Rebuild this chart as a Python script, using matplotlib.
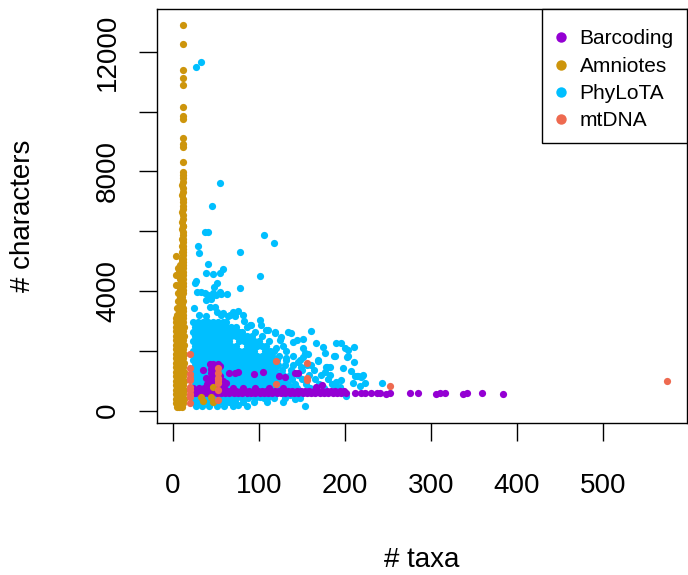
import matplotlib
matplotlib.use("Agg")
import matplotlib.pyplot as plt
from matplotlib.lines import Line2D
from matplotlib.patches import Rectangle

plt.rcParams['font.family'] = ['Liberation Sans', 'DejaVu Sans']

# ---- data (taxa, characters) ----
series_names = ['Barcoding', 'Amniotes', 'PhyLoTA', 'mtDNA']
series_colors = ['#9400D3', '#CD950C', '#00BFFF', '#EE6A50']

# PhyLoTA: scattered points
phylota_taxa = [27.6, 33.4, 54.7, 45.7, 37, 41, 106, 117.4, 29.5, 30.6, 78.3, 41, 39, 47,
                58.5, 55.5, 102, 27.5, 26.4, 51, 48, 78.3, 28, 33, 37, 41, 44, 50.8, 56,
                63.6, 39, 45, 25, 49, 51, 31, 39, 56.6, 64, 72, 76, 83, 91.5, 101, 103,
                111, 119.4, 126.4, 134, 138, 160.5, 190, 196, 211, 204, 200, 151.5, 153.5,
                167, 177, 175, 188, 203, 211, 198, 219, 221, 224, 243, 214, 151.5, 144,
                140, 157.5, 151.5, 188.5, 204, 169, 179, 183.4, 207, 215, 220.5, 209.7,
                217.5, 195, 190, 202, 153.5, 142, 47, 54.7, 43, 58.6, 66.3, 70, 81.7,
                89.5, 109, 118.6, 124.4, 120.6, 76, 111, 101, 136, 119, 132, 145.7,
                149.7, 161, 169, 178.7, 176.7, 182.5, 196, 211.4]
phylota_chars = [11500, 11670, 7620, 6845, 5960, 5960, 5860, 5620, 5515, 5260, 5300, 4890,
                 4600, 4580, 4740, 4600, 4510, 4345, 4255, 4280, 4120, 4090, 3950, 3960,
                 3930, 3850, 3800, 3880, 3900, 3890, 3700, 3720, 3420, 3450, 3300, 3180,
                 3170, 3200, 3150, 3170, 3340, 3000, 2860, 3030, 2860, 2690, 2640, 2470,
                 2640, 2580, 2660, 2250, 2270, 2140, 2025, 2080, 2080, 1910, 2250, 1910,
                 2140, 1820, 1800, 1630, 1410, 1130, 1190, 910, 930, 1150, 2390, 2360,
                 2300, 1900, 1800, 1830, 1830, 1690, 1445, 1445, 1320, 1150, 1160, 910,
                 820, 800, 960, 485, 150, 385, 3920, 3975, 3475, 3250, 3200, 3305, 3200,
                 2860, 2690, 2580, 2360, 2080, 185, 460, 460, 520, 1655, 1760, 1630,
                 1465, 1520, 1665, 1465, 1300, 1190, 1020, 1165]

# PhyLoTA: dense core, one row of taxa per characters level
phylota_row_chars = [2950, 2800, 2640, 2480, 2320, 2160, 2000, 1840, 1680, 1520, 1360,
                     1200, 1040, 880, 760, 430, 280, 140]
phylota_row_taxa = [
    [23, 29, 35, 41, 47, 53, 58, 62],
    [26, 32, 38, 44, 50, 56, 62, 68, 73, 86],
    [23, 29, 35, 41, 47, 53, 59, 65, 71, 77, 81, 96],
    [26, 32, 38, 44, 50, 56, 62, 68, 74, 80, 86, 92, 104],
    [23, 29, 35, 41, 47, 53, 59, 65, 77, 83, 89, 95, 100, 112],
    [26, 32, 38, 44, 50, 56, 62, 68, 74, 86, 92, 98, 104, 108, 128],
    [23, 29, 35, 41, 47, 53, 59, 65, 71, 77, 83, 89, 95, 107, 113, 118, 132],
    [26, 32, 38, 44, 50, 56, 62, 68, 74, 80, 86, 92, 98, 104, 110, 116, 124, 140],
    [23, 29, 35, 41, 47, 53, 59, 65, 71, 77, 83, 89, 95, 101, 107, 113, 121, 132, 148],
    [26, 32, 38, 44, 50, 56, 62, 68, 74, 80, 86, 92, 98, 104, 110, 116, 122, 130, 140, 156],
    [23, 29, 35, 41, 47, 53, 59, 65, 71, 77, 83, 89, 95, 101, 107, 113, 119, 127, 138, 150,
     164],
    [26, 32, 38, 44, 50, 56, 62, 68, 74, 80, 86, 92, 98, 104, 110, 116, 122, 128, 136, 146,
     158, 172],
    [23, 29, 35, 41, 47, 53, 59, 65, 71, 77, 83, 89, 95, 101, 107, 113, 119, 125, 131, 139,
     150, 166, 180],
    [26, 32, 38, 44, 50, 56, 62, 68, 74, 80, 86, 92, 98, 104, 110, 116, 122, 128, 134, 142,
     155, 170, 185],
    [23, 29, 35, 41, 47, 53, 59, 65, 71, 77, 83, 89, 95, 101, 107, 113, 119, 125, 131, 137,
     145, 160, 176, 190],
    [26, 32, 38, 44, 50, 56, 62, 68, 74, 80, 88, 96, 106, 118, 130, 148],
    [23, 29, 35, 41, 47, 53, 59, 65, 72, 82, 94, 110, 128],
    [27, 34, 42, 51, 60, 70, 86],
]

# Barcoding: scattered points
barcoding_taxa = [43, 47, 53, 55, 50, 45, 52, 48, 44, 50, 55, 47, 43, 52, 48, 40, 55, 45,
                  35, 39, 41, 58.5, 62.4, 51, 66, 72, 76, 95, 105, 124, 130, 142, 146, 167,
                  173.6, 212, 219.4, 223.5, 231, 237, 241, 248.5, 252.3, 275.6, 285.3,
                  306.6, 310.5, 316.3, 337, 342.3, 360, 384]
barcoding_chars = [1555, 1555, 1555, 1500, 1450, 1400, 1350, 1300, 1250, 1200, 1150, 1100,
                   1050, 1000, 950, 900, 880, 820, 1355, 1080, 855, 1000, 910, 1110, 1265,
                   1265, 1290, 1220, 1285, 1165, 1110, 1245, 1245, 780, 850, 590, 575, 600,
                   570, 590, 580, 560, 575, 580, 585, 560, 585, 570, 555, 575, 570, 560]

# Barcoding: the dense band
barcoding_row_chars = [660, 570, 760]
barcoding_row_taxa = [
    [24, 29, 34, 39, 44, 49, 54, 59, 64, 69, 74, 79, 84, 89, 94, 99, 104, 109, 114, 119,
     124, 129, 134, 139, 144, 149, 154, 159, 164, 169, 174, 179, 184, 189, 194, 199],
    [26, 31, 36, 41, 46, 51, 56, 61, 66, 71, 76, 81, 86, 91, 96, 101, 106, 111, 116, 121,
     126, 131, 136, 141, 146, 151, 156, 161, 166, 171, 176, 181, 186, 191, 196, 201],
    [24, 30, 36, 42, 48, 54, 60, 70, 82, 96, 112, 128],
]

# Amniotes: scattered points
amniotes_taxa = [11.7, 11.7, 11.7, 11.7, 11.7, 11.7, 11.7, 11.7, 11.7, 11.5, 11.9, 11.7,
                 11.7, 4.3, 6.2, 4.3, 4.3, 33, 45, 47, 47, 35]
amniotes_chars = [12910, 12250, 11390, 11130, 10910, 10160, 9850, 9740, 9110, 8920, 8830,
                  8330, 7990, 5180, 4780, 4535, 4200, 440, 440, 275, 800, 330]

# Amniotes: the dense column
amniotes_row_chars = [7880, 7770, 7650, 7540, 7430, 7320, 7200, 7090, 6980, 6860, 6750,
                      6640, 6530, 6420, 6300, 6190, 6080, 5970, 5860, 5750, 5640, 5520,
                      5410, 5300, 5190, 5080, 4970,
                      4880, 4760, 4640, 4520, 4400, 4280, 4160, 4040, 3920, 3800, 3680,
                      3560, 3440, 3320, 3200, 3080,
                      2950, 2800, 2650, 2500, 2350, 2200, 2050, 1900, 1750, 1600, 1450,
                      1300, 1150, 1000, 850, 700, 550, 400, 260, 130]
amniotes_row_taxa = [
    [11.5], [12], [11.5], [11], [12], [11.5], [11], [12], [11.5], [11.5], [12], [11],
    [11.5], [12], [11], [11.5, 12.5], [11], [12], [11.5], [10.5, 12], [11.5], [11, 12.5],
    [11.5], [10.5, 12], [11.5], [11, 12.5], [10.5, 12],
    [8, 11, 12.5], [9, 12], [7.5, 11, 12.5], [9, 12], [8, 11, 12.5], [9.5, 12], [7, 10.5, 12.5],
    [9, 12], [6, 9.5, 12.5], [8, 11], [6.5, 9.5, 12.5], [8, 11], [5.5, 9, 12], [7, 10.5, 12.5],
    [5, 8.5, 11.5], [4, 6.5, 9.5, 12.5],
    [3.5, 6.5, 9.5, 12.5], [4, 7, 10, 13], [3.5, 6.5, 9.5, 12.5], [4, 7, 10, 13],
    [3.5, 6.5, 9.5, 12.5], [4, 7, 10, 13], [3.5, 6.5, 9.5, 12.5], [4, 7, 10, 13],
    [3.5, 6.5, 9.5, 12.5], [4, 7, 10, 13], [3.5, 6.5, 9.5, 12.5], [4, 7, 10, 13],
    [3.5, 6.5, 9.5, 12.5], [4, 7, 10, 13], [3.5, 6.5, 9.5, 12.5], [4, 7, 10, 13],
    [3.5, 6.5, 9.5, 12.5], [4, 7, 10, 13], [3.5, 6.5, 9.5, 12.5], [4.5, 7.5, 10.5],
]

# mtDNA
mtdna_taxa = [20, 20, 20, 20, 20, 20, 20, 20, 20, 20, 52.7, 52.7, 52.7, 52.7, 52.7, 52.7,
              52.7, 120, 120, 156.6, 156.6, 156.6, 252.3, 575]
mtdna_chars = [1890, 1410, 1210, 1080, 1020, 800, 690, 550, 460, 240, 1410, 1245, 1080,
               1020, 910, 690, 350, 1655, 875, 1600, 1080, 1030, 820, 990]

x_ticks = [0, 100, 200, 300, 400, 500]
y_ticks = [0, 2000, 4000, 6000, 8000, 10000, 12000]
y_tick_labels = ['0', '', '4000', '', '8000', '', '12000']


def expand(row_chars, row_taxa, taxa, chars):
    xs, ys = list(taxa), list(chars)
    for c, row in zip(row_chars, row_taxa):
        xs += row
        ys += [c] * len(row)
    return xs, ys


pts = {
    'PhyLoTA': expand(phylota_row_chars, phylota_row_taxa, phylota_taxa, phylota_chars),
    'Barcoding': expand(barcoding_row_chars, barcoding_row_taxa, barcoding_taxa, barcoding_chars),
    'Amniotes': expand(amniotes_row_chars, amniotes_row_taxa, amniotes_taxa, amniotes_chars),
    'mtDNA': (mtdna_taxa, mtdna_chars),
}
colors = dict(zip(series_names, series_colors))

W, H = 688, 575
fig = plt.figure(figsize=(W / 100, H / 100), dpi=100)
ax = fig.add_axes([157 / W, 1 - 423 / H, 530 / W, 414 / H])

for name in ['PhyLoTA', 'Barcoding', 'Amniotes', 'mtDNA']:
    x, y = pts[name]
    ax.scatter(x, y, s=27, c=colors[name], linewidths=0, zorder=2)

ax.set_xlim(-18.3, 598)
ax.set_ylim(-418, 13437)
ax.set_xticks(x_ticks)
ax.set_xticklabels([str(t) for t in x_ticks])
ax.set_yticks(y_ticks)
ax.set_yticklabels(y_tick_labels, rotation=90, va='center')
ax.tick_params(axis='both', direction='out', length=13, width=1.0, labelsize=20,
               color='black')
ax.tick_params(axis='x', pad=23)
ax.tick_params(axis='y', pad=13)
for sp in ax.spines.values():
    sp.set_linewidth(1.0)
    sp.set_color('black')

ax.set_xlabel('# taxa', fontsize=20, va='center')
ax.xaxis.set_label_coords(0.5, (423 - 560) / 414)
ax.set_ylabel('# characters', fontsize=20, va='center')
ax.yaxis.set_label_coords((23 - 157) / 530, 0.5)

# legend box drawn by hand (R style: flush with the top-right corner)
box = Rectangle((541.5 / W, 1 - 143 / H), (687 - 541.5) / W, 134 / H,
                transform=fig.transFigure, facecolor='white', edgecolor='black',
                linewidth=1.0, zorder=5, clip_on=False)
ax.add_patch(box)

handles = [Line2D([], [], marker='o', linestyle='none', markersize=7.5,
                  markerfacecolor=colors[n], markeredgewidth=0) for n in series_names]
leg = ax.legend(handles, series_names, loc='upper left',
                bbox_to_anchor=(554.5 / W, 1 - 29.5 / H), bbox_transform=fig.transFigure,
                borderaxespad=0, borderpad=0, fontsize=15, frameon=False,
                labelspacing=0.4, handlelength=0.6, handletextpad=0.6)
leg.set_zorder(6)

fig.savefig('out.png', dpi=100)
